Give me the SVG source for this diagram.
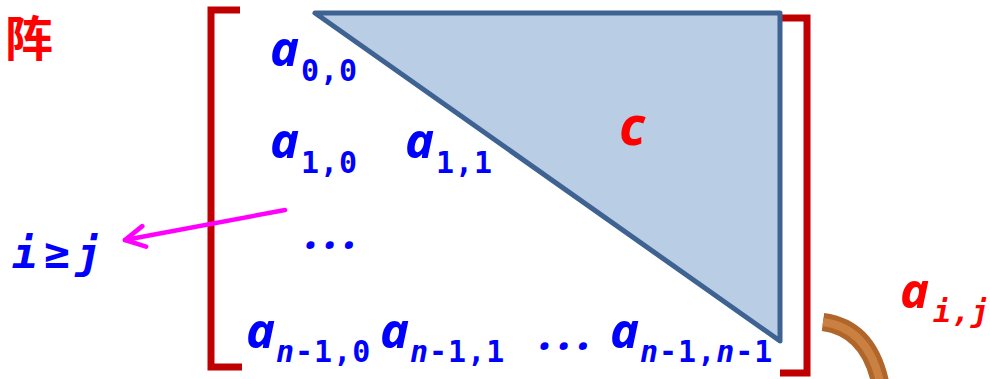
<svg xmlns="http://www.w3.org/2000/svg" width="990" height="379" viewBox="0 0 990 379">
  <defs>
    <style>
      .a { font-family: "Noto Sans", "Open Sans", sans-serif; font-weight: bold; font-style: italic; font-size: 49px; }
      .sub { font-family: "DejaVu Sans Mono", "Liberation Mono", monospace; font-weight: bold; font-style: normal; font-size: 30px; letter-spacing: 1px; }
      .it { font-style: italic; }
      .dots { font-family: "Noto Sans", sans-serif; font-weight: bold; font-style: italic; font-size: 46px; letter-spacing: 6px; }
      .blue { fill: #0000FF; }
      .red { fill: #FF0000; }
      .bracket { fill: none; stroke: #C00000; stroke-width: 7; }
    </style>
    <marker id="chev" viewBox="0 0 20 20" refX="17" refY="10" markerWidth="26" markerHeight="26" markerUnits="userSpaceOnUse" orient="auto">
      <path d="M2,2 L17,10 L2,18" fill="none" stroke="#FF00FF" stroke-width="3.6" stroke-linecap="round" stroke-linejoin="round"/>
    </marker>
  </defs>

  <g id="title-fragment">
    <text x="5" y="56" font-family="'Noto Sans CJK SC', sans-serif" font-weight="bold" font-size="48" fill="#FF0000">阵</text>
  </g>

  <g id="brackets">
    <path class="bracket" d="M240,10 H211 V367 H242"/>
    <path class="bracket" d="M782,18 H807 V373 H780"/>
  </g>

  <g id="upper-triangle">
    <polygon points="315,13 780,13 780,341" fill="#B9CDE5" stroke="#3E6291" stroke-width="5" stroke-linejoin="round"/>
    <text x="619" y="145" font-family="'Noto Sans', sans-serif" font-weight="bold" font-style="italic" font-size="54" class="red">c</text>
  </g>

  <g id="a00"><text class="a blue" x="270" y="66">a<tspan class="sub" x="301" y="81">0,0</tspan></text></g>
  <g id="a10"><text class="a blue" x="270" y="158">a<tspan class="sub" x="301" y="173">1,0</tspan></text></g>
  <g id="a11"><text class="a blue" x="405" y="158">a<tspan class="sub" x="436" y="173">1,1</tspan></text></g>
  <g id="vdots"><text class="dots blue" x="306" y="249">...</text></g>
  <g id="an10"><text class="a blue" x="246" y="348">a<tspan class="sub" x="276" y="362"><tspan class="it">n</tspan>-1,0</tspan></text></g>
  <g id="an11"><text class="a blue" x="380" y="348">a<tspan class="sub" x="410" y="362"><tspan class="it">n</tspan>-1,1</tspan></text></g>
  <g id="hdots"><text class="dots blue" x="540" y="350">...</text></g>
  <g id="an1n1"><text class="a blue" x="610" y="348">a<tspan class="sub" x="640" y="362"><tspan class="it">n</tspan>-1,<tspan class="it">n</tspan>-1</tspan></text></g>

  <g id="aij"><text class="a red" x="900" y="308" font-size="52">a<tspan class="sub it" x="933" y="322" letter-spacing="0">i,j</tspan></text></g>

  <g id="cond"><text x="12" y="268" font-family="'DejaVu Sans Mono', monospace" font-weight="bold" font-style="italic" font-size="43" letter-spacing="6" fill="#0000FF">i≥j</text></g>

  <g id="connectors">
    <line x1="285" y1="210" x2="125" y2="240" stroke="#FF00FF" stroke-width="4.5" stroke-linecap="round" marker-end="url(#chev)"/>
  </g>

  <g id="brown-curve">
    <path d="M823,322 Q868,328 880,382" fill="none" stroke="#B0662A" stroke-width="18"/>
    <path d="M823,322 Q868,328 880,382" fill="none" stroke="#C98040" stroke-width="8"/>
  </g>
</svg>
